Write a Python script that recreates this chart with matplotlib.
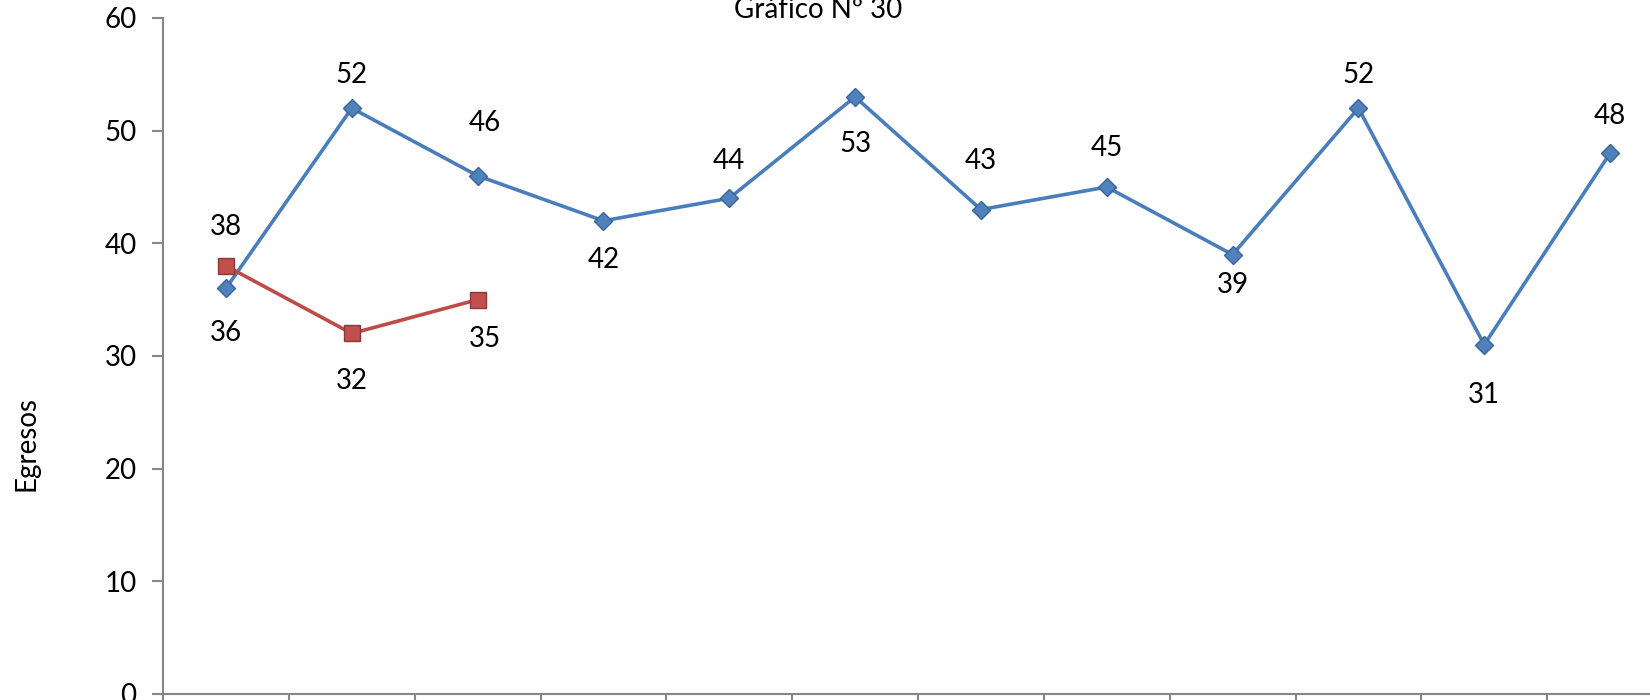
import numpy as np
import matplotlib.pyplot as plt

# data
categorias = list(range(12))
egresos_a = [36, 52, 46, 42, 44, 53, 43, 45, 39, 52, 31, 48]
egresos_b = [38, 32, 35]
y_ticks = [0, 10, 20, 30, 40, 50, 60]

# label offsets in points (positive = above)
off_a = [-32, 24, 38, -28, 27, -34, 35, 28, -22, 24, -36, 27]
off_b = [28, -34, -28]
dx_a = [0, 0, 5, 0, 0, 0, 0, 0, 0, 0, 0, 0]
dx_b = [0, 0, 5]

blue = '#4A7EBB'
red = '#BE4B48'
fam = ['Lato', 'DejaVu Sans']

fig = plt.figure(figsize=(16.5, 7), dpi=100)
ax = fig.add_axes([163 / 1650, 6 / 700, 1510 / 1650, 676 / 700])

ax.plot(categorias, egresos_a, color=blue, lw=2.6, marker='D', ms=9,
        mfc='#4F81BD', mec='#3A6598', mew=1, zorder=3)
ax.plot(categorias[:len(egresos_b)], egresos_b, color=red, lw=2.6, marker='s', ms=12,
        mfc='#C0504D', mec='#8C3836', mew=1, zorder=4)

lab_font = dict(fontsize=20, family=fam, ha='center', va='center')
for x, v, o, d in zip(categorias, egresos_a, off_a, dx_a):
    ax.annotate(str(v), (x, v), xytext=(d, o), textcoords='offset points', **lab_font)
for x, v, o, d in zip(categorias, egresos_b, off_b, dx_b):
    ax.annotate(str(v), (x, v), xytext=(d, o), textcoords='offset points', **lab_font)

ax.set_xlim(-0.5, 11.5)
ax.set_ylim(0, 60)
ax.set_yticks(y_ticks)
ax.set_xticks(np.arange(-0.5, 12, 1))
ax.set_xticklabels([])
ax.tick_params(axis='y', direction='out', length=8, width=1.5, color='#868686',
               labelsize=20, pad=11)
for t in ax.get_yticklabels():
    t.set_family(fam)
ax.tick_params(axis='x', direction='out', length=8, width=1.5, color='#868686')
for s in ['top', 'right']:
    ax.spines[s].set_visible(False)
for s in ['left', 'bottom']:
    ax.spines[s].set_color('#868686')
    ax.spines[s].set_linewidth(1.5)

fig.text(26 / 1650, 1 - 444 / 700, 'Egresos', fontsize=20, family=fam,
         rotation=90, ha='center', va='center')

fig.text(818 / 1650, 1 - 18 / 700, 'Gráfico Nº 30', fontsize=20,
         family=fam, ha='center', va='baseline')

fig.savefig('out.png', dpi=100)
